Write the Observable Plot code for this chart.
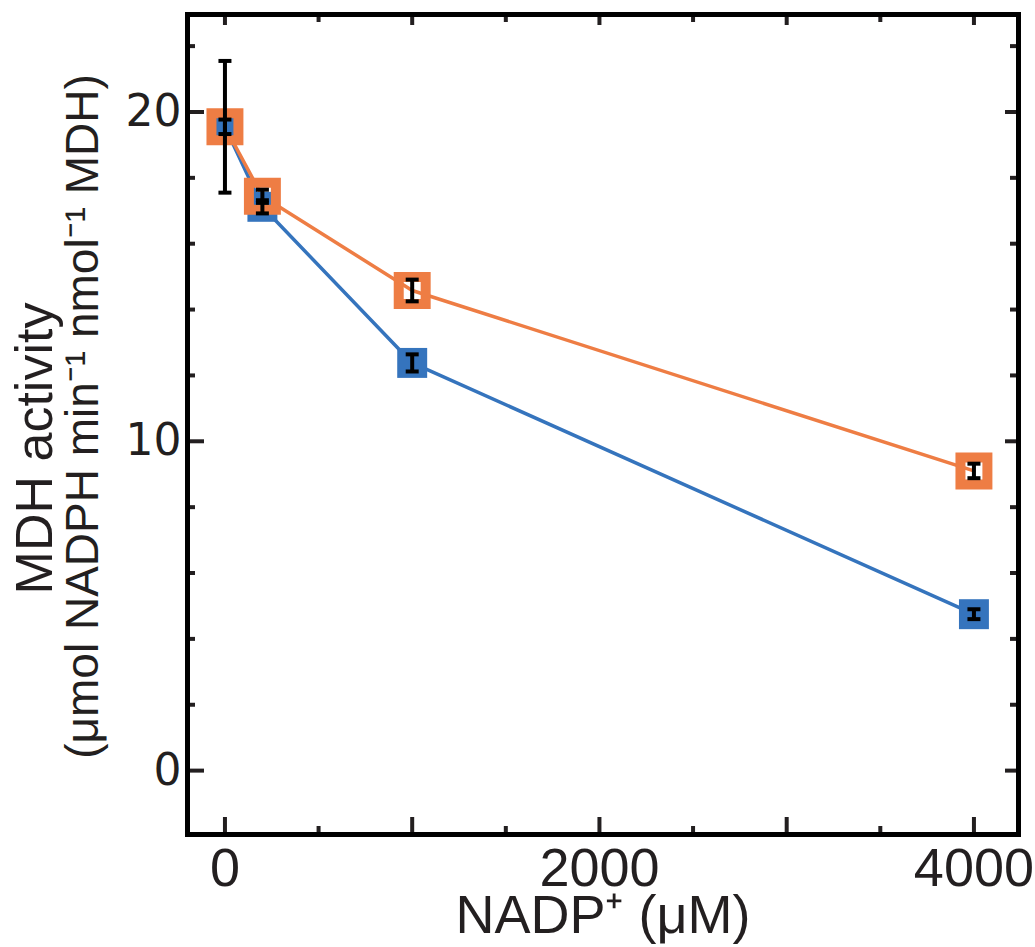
<!DOCTYPE html>
<html><head><meta charset="utf-8">
<script src="https://cdn.jsdelivr.net/npm/d3@7"></script>
<script src="https://cdn.jsdelivr.net/npm/@observablehq/plot@0.6"></script>
<style>body{margin:0;background:#fff}</style>
</head><body><div id="chart"></div>
<script>
// ---- data ----
const nadp = [0, 200, 1000, 4000];
const blueActivity = [19.55, 17.12, 12.38, 4.75];
const blueError = [0.22, 0.2, 0.26, 0.15];
const orangeActivity = [19.55, 17.44, 14.58, 9.1];
const orangeError = [2.0, 0.2, 0.33, 0.22];
const xTickLabels = [0, 2000, 4000];
const yTickLabels = [0, 10, 20];
const xMajorTicks = [0, 1000, 2000, 3000, 4000];
const xMinorTicks = [500, 1500, 2500, 3500];
const yMajorTicks = [0, 10, 20];
const yMinorTicks = [2, 4, 6, 8, 12, 14, 16, 18, 22];
const xTitle = "NADP⁺ (μM)";
const yTitle1 = "MDH activity";
const yTitle2 = "(μmol NADPH min⁻¹ nmol⁻¹ MDH)";

const blue = nadp.map((x, i) => ({x, y: blueActivity[i], e: blueError[i]}));
const orange = nadp.map((x, i) => ({x, y: orangeActivity[i], e: orangeError[i]}));
const errs = [...blue, ...orange];

const W = 1035, H = 947;
const mL = 187, mR = 17, mT = 14, mB = 113;
const fw = W - mL - mR, fh = H - mT - mB;
const BLUE = "#3574bd", ORANGE = "#ee7d44", INK = "#231f20";
const sans = "Liberation Sans, Arial, Helvetica, sans-serif";

const capSymbol = {draw(ctx, size) { const w = Math.sqrt(size / Math.PI); ctx.moveTo(-w, 0); ctx.lineTo(w, 0); }};

const majorLen = 17, minorLen = 8, tickW = 4;

const chart = Plot.plot({
  width: W, height: H,
  marginLeft: mL, marginRight: mR, marginTop: mT, marginBottom: mB,
  x: {domain: [-200, 4238]},
  y: {domain: [-1.94, 22.96]},
  style: {background: "#fff"},
  marks: [
    // ticks, inward on all four sides
    Plot.tickX(xMajorTicks, {x: d => d, insetTop: fh - majorLen, stroke: INK, strokeWidth: tickW}),
    Plot.tickX(xMinorTicks, {x: d => d, insetTop: fh - minorLen, stroke: INK, strokeWidth: tickW}),
    Plot.tickX(xMajorTicks, {x: d => d, insetBottom: fh - majorLen + 6, stroke: INK, strokeWidth: tickW}),
    Plot.tickX(xMinorTicks, {x: d => d, insetBottom: fh - minorLen, stroke: INK, strokeWidth: tickW}),
    Plot.tickY(yMajorTicks, {y: d => d, insetRight: fw - majorLen, stroke: INK, strokeWidth: tickW}),
    Plot.tickY(yMinorTicks, {y: d => d, insetRight: fw - minorLen, stroke: INK, strokeWidth: tickW}),
    Plot.tickY(yMajorTicks, {y: d => d, insetLeft: fw - majorLen + 4, stroke: INK, strokeWidth: tickW}),
    Plot.tickY(yMinorTicks, {y: d => d, insetLeft: fw - minorLen, stroke: INK, strokeWidth: tickW}),
    Plot.frame({stroke: "#000", strokeWidth: 5}),
    Plot.axisX({ticks: xTickLabels, tickSize: 0, tickPadding: 13, fontSize: 54, fontFamily: sans, color: INK, label: null, tickFormat: d => String(d)}),
    Plot.axisY({ticks: yTickLabels, tickSize: 0, tickPadding: 6, fontSize: 44, fontFamily: "DejaVu Sans, sans-serif", color: INK, label: null, tickFormat: d => String(d)}),
    // lines
    Plot.line(blue, {x: "x", y: "y", stroke: BLUE, strokeWidth: 3.5}),
    Plot.line(orange, {x: "x", y: "y", stroke: ORANGE, strokeWidth: 3.5}),
    // markers
    Plot.dot(blue, {x: "x", y: "y", symbol: "square", r: 16.9, fill: BLUE, stroke: "none"}),
    Plot.dot(orange, {x: "x", y: "y", symbol: "square", r: 15.2, fill: "none", stroke: ORANGE, strokeWidth: 10}),
    // error bars
    Plot.ruleX(errs, {x: "x", y1: d => d.y - d.e, y2: d => d.y + d.e, stroke: "#000", strokeWidth: 4}),
    Plot.dot(errs, {x: "x", y: d => d.y - d.e, symbol: capSymbol, r: 6.5, fill: "none", stroke: "#000", strokeWidth: 4}),
    Plot.dot(errs, {x: "x", y: d => d.y + d.e, symbol: capSymbol, r: 6.5, fill: "none", stroke: "#000", strokeWidth: 4}),
    // titles
    Plot.text([xTitle], {text: d => d, frameAnchor: "bottom", textAnchor: "middle", lineAnchor: "top", dy: 60, fontSize: 54, fontFamily: sans, fill: INK}),
    Plot.text([yTitle1], {text: d => d, frameAnchor: "left", textAnchor: "middle", lineAnchor: "middle", rotate: -90, dx: -152, dy: 24, fontSize: 52, fontFamily: sans, fill: INK}),
    Plot.text([yTitle2], {text: d => d, frameAnchor: "left", textAnchor: "middle", lineAnchor: "middle", rotate: -90, dx: -104, dy: -8, fontSize: 46, fontFamily: sans, fill: INK})
  ]
});
document.getElementById("chart").appendChild(chart);
</script>
</body></html>
